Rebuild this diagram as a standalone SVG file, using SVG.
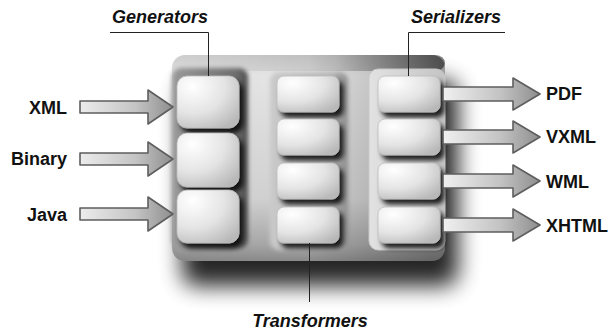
<svg xmlns="http://www.w3.org/2000/svg" width="610" height="332" viewBox="0 0 610 332">
  <defs>
    <style>
      .lbl { font-family: "Liberation Sans", Arial, sans-serif; font-weight: bold; font-size: 18px; fill: #111; }
      .ttl { font-family: "Liberation Sans", Arial, sans-serif; font-weight: bold; font-style: italic; font-size: 18px; fill: #111; }
      .lead { fill: none; stroke: #222; stroke-width: 1; }
      .box { stroke: #bdbdbd; stroke-width: 0.8; filter: url(#boxShadow); }
      .arrowL { fill: url(#arrowGradL); stroke: #5e5e5e; stroke-width: 1.6; stroke-linejoin: round; }
      .arrowR { fill: url(#arrowGradR); stroke: #5e5e5e; stroke-width: 1.6; stroke-linejoin: round; }
    </style>
    <radialGradient id="boxGrad" cx="0.25" cy="0.2" r="0.95">
      <stop offset="0" stop-color="#ffffff"/>
      <stop offset="0.55" stop-color="#e4e4e4"/>
      <stop offset="1" stop-color="#b8b8b8"/>
    </radialGradient>
    <linearGradient id="panelV" x1="0" y1="0" x2="0" y2="1">
      <stop offset="0" stop-color="#d4d4d4"/>
      <stop offset="0.1" stop-color="#e6e6e6"/>
      <stop offset="0.7" stop-color="#d2d2d2"/>
      <stop offset="0.92" stop-color="#a8a8a8"/>
      <stop offset="1" stop-color="#8a8a8a"/>
    </linearGradient>
    <linearGradient id="panelH" x1="0" y1="0" x2="1" y2="0">
      <stop offset="0" stop-color="#000" stop-opacity="0.03"/>
      <stop offset="0.5" stop-color="#000" stop-opacity="0"/>
      <stop offset="1" stop-color="#000" stop-opacity="0.3"/>
    </linearGradient>
    <linearGradient id="topBand" x1="0" y1="0" x2="1" y2="0">
      <stop offset="0" stop-color="#000" stop-opacity="0"/>
      <stop offset="0.6" stop-color="#000" stop-opacity="0.12"/>
      <stop offset="1" stop-color="#000" stop-opacity="0.5"/>
    </linearGradient>
    <linearGradient id="genCol" x1="0" y1="0" x2="1" y2="0">
      <stop offset="0" stop-color="#9a9a9a"/>
      <stop offset="0.85" stop-color="#6e6e6e"/>
      <stop offset="1" stop-color="#4a4a4a"/>
    </linearGradient>
    <linearGradient id="trCol" x1="0" y1="0" x2="1" y2="0">
      <stop offset="0" stop-color="#cacaca"/>
      <stop offset="0.8" stop-color="#b4b4b4"/>
      <stop offset="1" stop-color="#8a8a8a"/>
    </linearGradient>
    <linearGradient id="serCol" x1="0" y1="0" x2="1" y2="0">
      <stop offset="0" stop-color="#e2e2e2"/>
      <stop offset="1" stop-color="#c4c4c4"/>
    </linearGradient>
    <linearGradient id="arrowGradL" x1="0" y1="0" x2="1" y2="0">
      <stop offset="0" stop-color="#ececec"/>
      <stop offset="0.6" stop-color="#c4c4c4"/>
      <stop offset="1" stop-color="#8e8e8e"/>
    </linearGradient>
    <linearGradient id="arrowGradR" x1="0" y1="0" x2="1" y2="0">
      <stop offset="0" stop-color="#f0f0f0"/>
      <stop offset="0.6" stop-color="#c2c2c2"/>
      <stop offset="1" stop-color="#8e8e8e"/>
    </linearGradient>
    <filter id="panelShadow" x="-30%" y="-30%" width="160%" height="170%">
      <feGaussianBlur stdDeviation="11"/>
    </filter>
    <filter id="boxShadow" x="-30%" y="-30%" width="160%" height="170%">
      <feGaussianBlur in="SourceAlpha" stdDeviation="2.5" result="b"/>
      <feOffset in="b" dx="4" dy="5" result="o"/>
      <feComponentTransfer in="o" result="s"><feFuncA type="linear" slope="0.85"/></feComponentTransfer>
      <feMerge><feMergeNode in="s"/><feMergeNode in="SourceGraphic"/></feMerge>
    </filter>
    <filter id="colShadow" x="-30%" y="-30%" width="160%" height="170%">
      <feGaussianBlur stdDeviation="2"/>
    </filter>
    <path id="arrL" d="M0,-6 H68 V-17 L93,0 L68,17 V6 H0 Z"/>
    <path id="arrR" d="M0,-7 H70 V-16 L97,0 L70,16 V7 H0 Z"/>
  </defs>

  <rect width="610" height="332" fill="#ffffff"/>

  <g id="panel">
    <rect x="182" y="80" width="276" height="206" rx="14" fill="#000" opacity="0.85" filter="url(#panelShadow)"/>
    <rect x="172" y="55" width="273" height="206" rx="13" fill="url(#panelV)"/>
    <rect x="172" y="55" width="273" height="206" rx="13" fill="url(#panelH)"/>
    <rect x="172" y="55" width="273" height="16" rx="10" fill="url(#topBand)"/>
    <rect x="172" y="68" width="76" height="181" rx="9" fill="url(#genCol)" filter="url(#colShadow)"/>
    <rect x="270" y="72" width="78" height="178" rx="9" fill="url(#trCol)" filter="url(#colShadow)"/>
    <rect x="369" y="69" width="76" height="181" rx="9" fill="url(#serCol)" stroke="#c8c8c8" stroke-width="1"/>
  </g>

  <g id="generators">
    <rect id="gen-1" class="box" x="177" y="76" width="62" height="52" rx="10" fill="url(#boxGrad)"/>
    <rect id="gen-2" class="box" x="177" y="133" width="62" height="54" rx="10" fill="url(#boxGrad)"/>
    <rect id="gen-3" class="box" x="177" y="190" width="62" height="53" rx="10" fill="url(#boxGrad)"/>
  </g>
  <g id="transformers">
    <rect id="trans-1" class="box" x="277" y="76" width="62" height="36" rx="7" fill="url(#boxGrad)"/>
    <rect id="trans-2" class="box" x="277" y="119" width="62" height="36" rx="7" fill="url(#boxGrad)"/>
    <rect id="trans-3" class="box" x="277" y="163" width="62" height="36" rx="7" fill="url(#boxGrad)"/>
    <rect id="trans-4" class="box" x="277" y="207" width="62" height="36" rx="7" fill="url(#boxGrad)"/>
  </g>
  <g id="serializers">
    <rect id="ser-1" class="box" x="378" y="76" width="62" height="36" rx="7" fill="url(#boxGrad)"/>
    <rect id="ser-2" class="box" x="378" y="119" width="62" height="36" rx="7" fill="url(#boxGrad)"/>
    <rect id="ser-3" class="box" x="378" y="163" width="62" height="36" rx="7" fill="url(#boxGrad)"/>
    <rect id="ser-4" class="box" x="378" y="207" width="62" height="36" rx="7" fill="url(#boxGrad)"/>
  </g>

  <g id="connectors">
    <use href="#arrL" class="arrowL" transform="translate(80,107)"/>
    <use href="#arrL" class="arrowL" transform="translate(80,159)"/>
    <use href="#arrL" class="arrowL" transform="translate(80,214)"/>
    <use href="#arrR" class="arrowR" transform="translate(443,94)"/>
    <use href="#arrR" class="arrowR" transform="translate(443,137)"/>
    <use href="#arrR" class="arrowR" transform="translate(443,181)"/>
    <use href="#arrR" class="arrowR" transform="translate(443,225)"/>
    <path class="lead" d="M110,32.5 H208.5 V76"/>
    <path class="lead" d="M505,32.5 H408.5 V76"/>
    <path class="lead" d="M309.5,243 V302"/>
  </g>

  <g id="labels">
    <text class="ttl" x="160" y="23" text-anchor="middle">Generators</text>
    <text class="ttl" x="456" y="23" text-anchor="middle">Serializers</text>
    <text class="ttl" x="310" y="327" text-anchor="middle">Transformers</text>
    <text class="lbl" x="67" y="114" text-anchor="end">XML</text>
    <text class="lbl" x="67" y="165" text-anchor="end">Binary</text>
    <text class="lbl" x="67" y="221" text-anchor="end">Java</text>
    <text class="lbl" x="546" y="100">PDF</text>
    <text class="lbl" x="546" y="143">VXML</text>
    <text class="lbl" x="546" y="188">WML</text>
    <text class="lbl" x="546" y="232">XHTML</text>
  </g>
</svg>
